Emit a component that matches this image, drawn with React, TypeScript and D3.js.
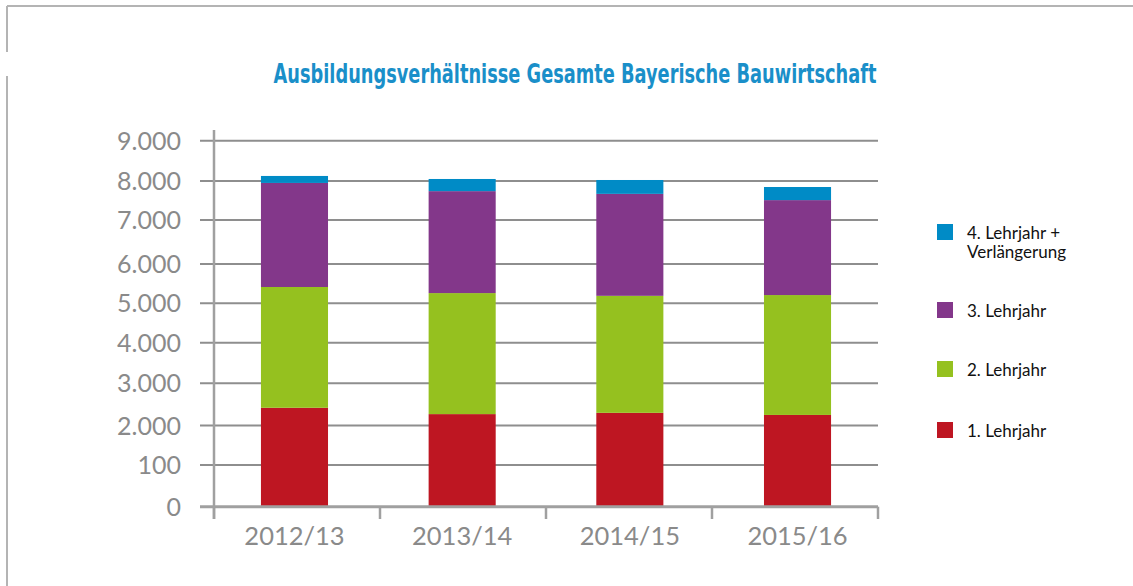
import React from "react";
import * as d3 from "d3";

const categories = ["2012/13", "2013/14", "2014/15", "2015/16"];
const seriesNames = ["1. Lehrjahr", "2. Lehrjahr", "3. Lehrjahr", "4. Lehrjahr + Verlängerung"];
const lehrjahr1 = [2420, 2270, 2300, 2250];
const lehrjahr2 = [2995, 2990, 2890, 2960];
const lehrjahr3 = [2535, 2480, 2480, 2300];
const lehrjahr4 = [175, 310, 355, 336];
const tickValues = [0, 1000, 2000, 3000, 4000, 5000, 6000, 7000, 8000, 9000];
const tickLabels = ["0", "100", "2.000", "3.000", "4.000", "5.000", "6.000", "7.000", "8.000", "9.000"];
const colors = ["#be1622", "#95c11f", "#83378a", "#008bc6"];
const title = "Ausbildungsverhältnisse Gesamte Bayerische Bauwirtschaft";

// pixel positions of the (unevenly spaced) gridlines in the original
const gridPx = [506.7, 465, 425.5, 383.3, 342.7, 303.3, 264, 220, 181, 140.7];

export default function App() {
  const W = 1133, H = 586;
  const x0 = 214, x1 = 878;
  const y = d3.scaleLinear().domain(tickValues).range(gridPx);
  const x = d3.scaleBand().domain(categories).range([x0, x1]).paddingInner(0.6).paddingOuter(0.28);
  const rows = categories.map((c, i) => ({
    cat: c,
    s0: lehrjahr1[i], s1: lehrjahr2[i], s2: lehrjahr3[i], s3: lehrjahr4[i],
  }));
  const stack = d3.stack<any>().keys(["s0", "s1", "s2", "s3"]);
  const layers = stack(rows);
  const bandStep = (x1 - x0) / categories.length;
  const catTicks = d3.range(categories.length + 1).map((i) => x0 + i * bandStep);

  const legendItems = [
    { name: seriesNames[3], color: colors[3], cy: 232, lines: ["4. Lehrjahr +", "Verlängerung"] },
    { name: seriesNames[2], color: colors[2], cy: 310, lines: [seriesNames[2]] },
    { name: seriesNames[1], color: colors[1], cy: 369, lines: [seriesNames[1]] },
    { name: seriesNames[0], color: colors[0], cy: 430, lines: [seriesNames[0]] },
  ];
  const font = "Lato, 'Open Sans', sans-serif";

  return (
    <div style={{ position: "absolute", left: 0, top: 0 }}>
      <svg width={W} height={H} style={{ display: "block", background: "#fff" }}>
        {/* frame */}
        <line x1={7} x2={W} y1={6} y2={6} stroke="#b4b4b4" strokeWidth={2} />
        <line x1={7} x2={7} y1={6} y2={52} stroke="#b4b4b4" strokeWidth={2} />
        <line x1={7} x2={7} y1={76} y2={H} stroke="#b4b4b4" strokeWidth={2} />

        <text
          x={575}
          y={83}
          textAnchor="middle"
          fill="#1a8fc9"
          fontFamily="'DejaVu Sans Condensed', 'DejaVu Sans', sans-serif"
          fontWeight="bold"
          fontSize={27}
          textLength={603}
          lengthAdjust="spacingAndGlyphs"
        >
          {title}
        </text>

        {/* gridlines */}
        {tickValues.slice(1).map((v) => (
          <line key={v} x1={200} x2={x1} y1={y(v)} y2={y(v)} stroke="#8e8e8e" strokeWidth={2} />
        ))}
        {/* y axis */}
        <line x1={x0} x2={x0} y1={130} y2={519} stroke="#a0a0a0" strokeWidth={2.5} />
        {tickValues.map((v, i) => (
          <text
            key={v}
            x={181}
            y={y(v) + 9}
            textAnchor="end"
            fill="#8a8a8a"
            fontFamily={font}
            fontSize={25}
          >
            {tickLabels[i]}
          </text>
        ))}

        {/* bars */}
        {layers.map((layer, li) => (
          <g key={li} fill={colors[li]}>
            {layer.map((d: any, i: number) => (
              <rect
                key={i}
                x={x(categories[i])!}
                width={x.bandwidth()}
                y={y(d[1])}
                height={y(d[0]) - y(d[1])}
              />
            ))}
          </g>
        ))}

        {/* x axis */}
        <line x1={200} x2={x1} y1={y(0)} y2={y(0)} stroke="#a0a0a0" strokeWidth={3} />
        {catTicks.map((t, i) => (
          <line key={i} x1={t} x2={t} y1={y(0)} y2={519} stroke="#a0a0a0" strokeWidth={2.5} />
        ))}
        {categories.map((c) => (
          <text
            key={c}
            x={x(c)! + x.bandwidth() / 2}
            y={545}
            textAnchor="middle"
            fill="#8a8a8a"
            fontFamily={font}
            fontSize={25.5}
          >
            {c}
          </text>
        ))}

        {/* legend */}
        {legendItems.map((it) => (
          <g key={it.name}>
            <rect x={937} y={it.cy - 8} width={16} height={16} fill={it.color} />
            {it.lines.map((ln, k) => (
              <text
                key={k}
                x={967}
                y={it.cy + 7 + k * 19}
                fill="#111"
                fontFamily={font}
                fontSize={17}
              >
                {ln}
              </text>
            ))}
          </g>
        ))}
      </svg>
    </div>
  );
}
